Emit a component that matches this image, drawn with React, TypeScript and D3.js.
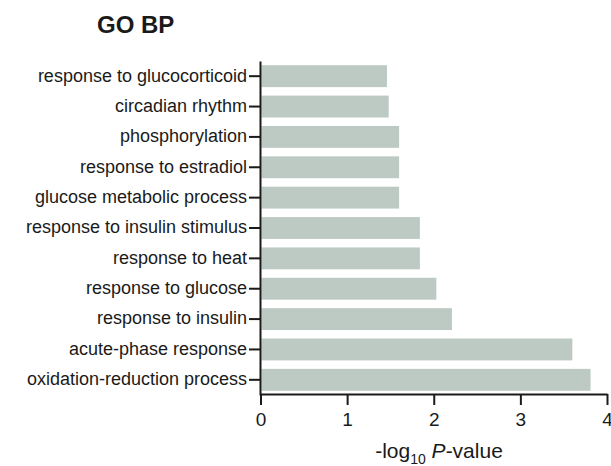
import React, { useEffect, useRef } from "react";
import * as d3 from "d3";

const categories = [
  "response to glucocorticoid",
  "circadian rhythm",
  "phosphorylation",
  "response to estradiol",
  "glucose metabolic process",
  "response to insulin stimulus",
  "response to heat",
  "response to glucose",
  "response to insulin",
  "acute-phase response",
  "oxidation-reduction process",
];
const values = [1.46, 1.48, 1.6, 1.6, 1.6, 1.84, 1.84, 2.03, 2.21, 3.6, 3.81];
const xTicks = [0, 1, 2, 3, 4];
const title = "GO BP";

const W = 611;
const H = 466;
const FONT = "'Liberation Sans', Arial, sans-serif";

export default function App() {
  const xAxisRef = useRef<SVGGElement>(null);
  const yAxisRef = useRef<SVGGElement>(null);

  const x = d3.scaleLinear().domain([0, 4]).range([260.5, 607]);
  const y = d3
    .scaleBand<string>()
    .domain(categories)
    .range([61, 395])
    .paddingInner(0.28)
    .paddingOuter(0.14);

  useEffect(() => {
    if (xAxisRef.current) {
      const g = d3.select(xAxisRef.current);
      g.call(
        d3
          .axisBottom(x)
          .tickValues(xTicks)
          .tickSize(11)
          .tickSizeOuter(0)
          .tickPadding(8)
          .tickFormat(d3.format("d"))
      );
      g.select(".domain").attr("stroke", "#1a1a1a").attr("stroke-width", 2);
      g.selectAll(".tick line").attr("stroke", "#1a1a1a").attr("stroke-width", 2);
      g.selectAll(".tick text")
        .attr("fill", "#1a1a1a")
        .style("font-size", "19px")
        .style("font-family", FONT);
    }
    if (yAxisRef.current) {
      const g = d3.select(yAxisRef.current);
      g.call(d3.axisLeft(y).tickSize(11).tickSizeOuter(0).tickPadding(2));
      g.select(".domain").attr("stroke", "#1a1a1a").attr("stroke-width", 2);
      g.selectAll(".tick line").attr("stroke", "#1a1a1a").attr("stroke-width", 2);
      g.selectAll(".tick text")
        .attr("fill", "#1a1a1a")
        .attr("dy", "0.3em")
        .style("font-size", "18px")
        .style("font-family", FONT);
    }
  });

  return (
    <svg
      width={W}
      height={H}
      style={{ position: "absolute", left: 0, top: 0, background: "#fff" }}
      fontFamily={FONT}
    >
      <text x={97} y={33} fontSize={24} fontWeight="bold" fill="#1a1a1a">
        {title}
      </text>
      <g>
        {categories.map((c, i) => (
          <rect
            key={c}
            x={x(0) + 1}
            y={y(c)!}
            width={x(values[i]) - x(0) - 1}
            height={y.bandwidth()}
            fill="#bdcac3"
          />
        ))}
      </g>
      <g ref={yAxisRef} transform={`translate(${x(0) - 0.5},0)`} />
      <g ref={xAxisRef} transform={`translate(0,394)`} />
      <text x={439} y={458} fontSize={21} textAnchor="middle" fill="#1a1a1a">
        -log
        <tspan fontSize={14} dy={6}>10</tspan>
        <tspan dy={-6}> </tspan>
        <tspan fontStyle="italic">P</tspan>
        -value
      </text>
    </svg>
  );
}
